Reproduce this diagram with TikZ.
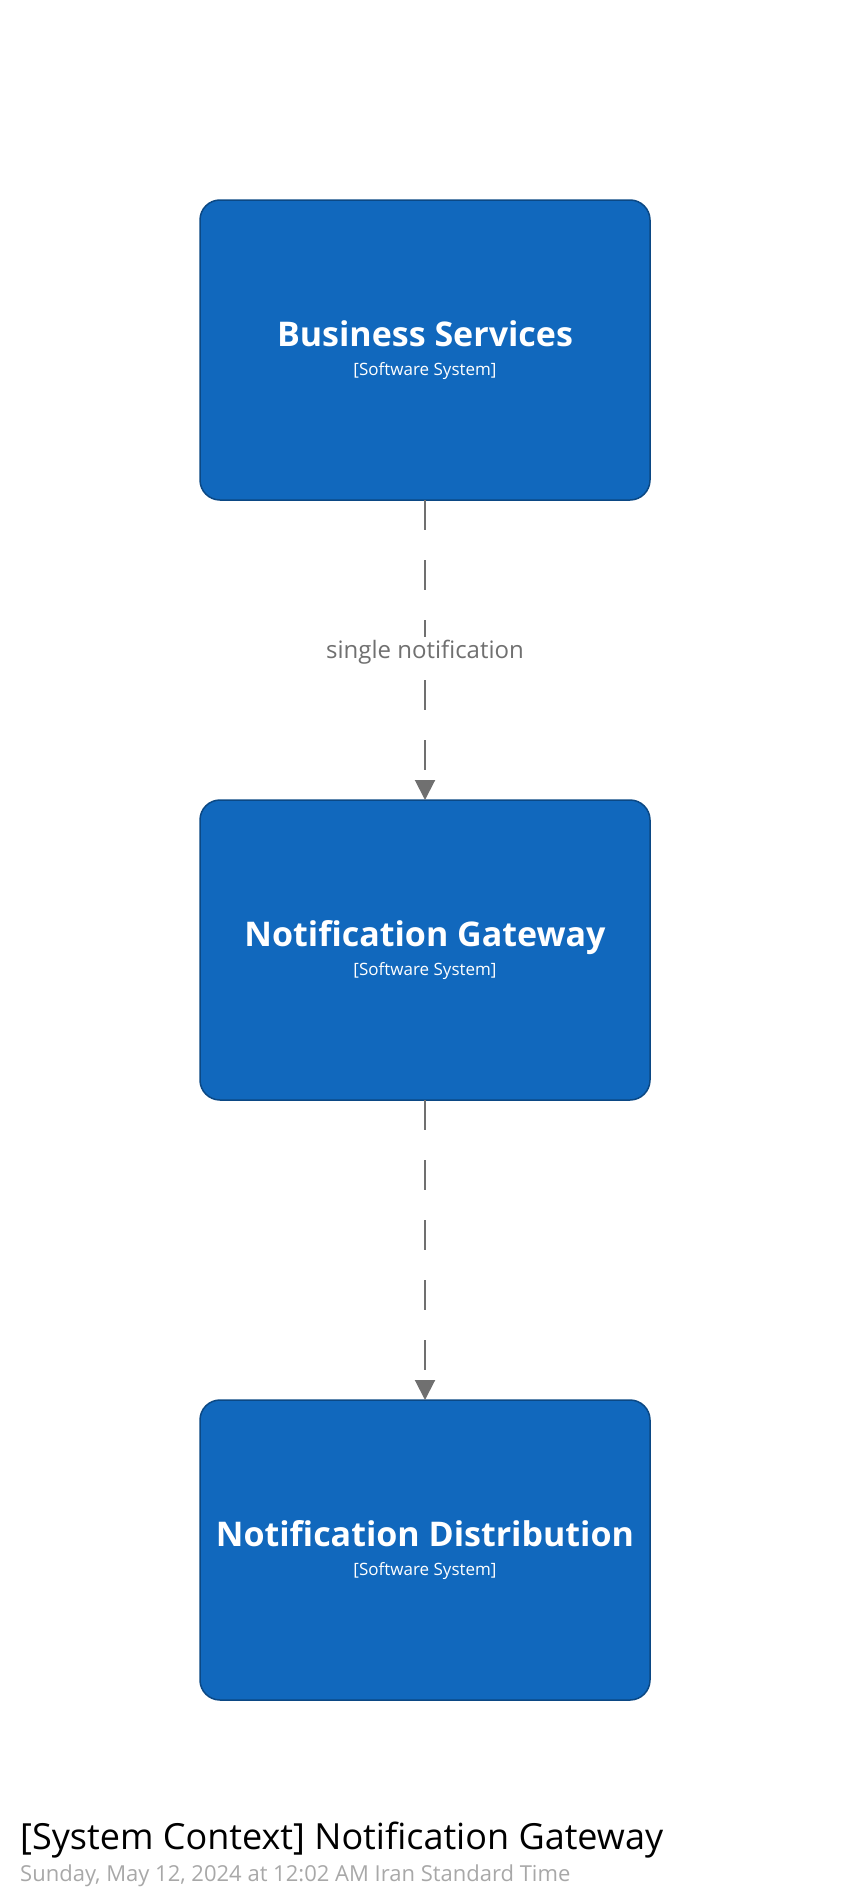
\documentclass[tikz,border=0pt]{standalone}
\usepackage{fontspec}
\setmainfont{Open Sans}
\usetikzlibrary{positioning,arrows.meta}

\definecolor{sysblue}{HTML}{1168BD}
\definecolor{sysedge}{HTML}{0B4884}
\definecolor{relgray}{HTML}{707070}
\definecolor{dategray}{HTML}{A8A8A8}

\begin{document}
\begin{tikzpicture}[
  x=1pt, y=-1pt,
  sys/.style={draw=sysedge, fill=sysblue, line width=1.5pt, rounded corners=20pt,
              minimum width=450pt, minimum height=300pt, outer sep=0pt,
              text=white, align=center, inner sep=0pt,
              font=\fontsize{17}{29}\selectfont},
  rel/.style={draw=relgray, line width=2pt, dash pattern=on 30pt off 30pt,
              -{Triangle[length=20pt, width=20pt]}},
  lbl/.style={fill=white, text=relgray, font=\fontsize{24}{28}\selectfont, inner sep=3pt},
  ttl/.style={anchor=base west, inner sep=0pt, font=\fontsize{36}{40}\selectfont},
  sub/.style={anchor=base west, inner sep=0pt, text=dategray, font=\fontsize{22}{26}\selectfont},
]
\useasboundingbox (0,0) rectangle (850,1900);

% ---- software systems -------------------------------------------
\node[sys] (biz)  at (425,350)  {{\fontsize{34}{40}\selectfont\bfseries Business Services}\\[0pt][Software System]};
\node[sys] (gate) at (425,950)  {{\fontsize{34}{40}\selectfont\bfseries Notification Gateway}\\[0pt][Software System]};
\node[sys] (dist) at (425,1550) {{\fontsize{34}{40}\selectfont\bfseries Notification Distribution}\\[0pt][Software System]};

% ---- relationships ----------------------------------------------
\draw[rel] (biz)  -- (gate) node[midway, lbl, yshift=-2pt] {single notification};
\draw[rel] (gate) -- (dist);

% ---- diagram title ----------------------------------------------
\node[ttl] (title) at (20,1849) {[System Context] Notification Gateway};
\node[sub] (date)  at (20,1881) {Sunday, May 12, 2024 at 12:02 AM Iran Standard Time};

\end{tikzpicture}
\end{document}
